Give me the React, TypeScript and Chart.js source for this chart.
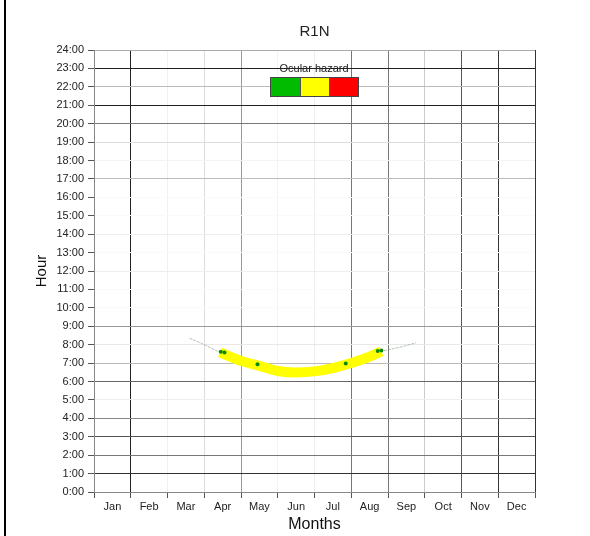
import React, { useEffect, useRef } from 'react';
import { Chart, registerables } from 'chart.js';

Chart.register(...registerables);

const monthLabels = ['Jan', 'Feb', 'Mar', 'Apr', 'May', 'Jun', 'Jul', 'Aug', 'Sep', 'Oct', 'Nov', 'Dec'];
const hourLabels = ['0:00', '1:00', '2:00', '3:00', '4:00', '5:00', '6:00', '7:00', '8:00', '9:00', '10:00', '11:00', '12:00', '13:00', '14:00', '15:00', '16:00', '17:00', '18:00', '19:00', '20:00', '21:00', '22:00', '23:00', '24:00'];

// thin sun-path trace (months from Jan 1, hours)
const traceMonths = [2.6, 3.0, 3.43, 4.0, 4.5, 5.0, 5.5, 6.0, 6.5, 7.0, 7.5, 7.78, 8.0, 8.4, 8.76];
const traceHours = [8.35, 8.0, 7.58, 7.12, 6.85, 6.57, 6.49, 6.55, 6.73, 7.0, 7.35, 7.62, 7.72, 7.9, 8.1];

// yellow glare band
const bandMonths = [3.43, 4.0, 4.5, 5.0, 5.5, 6.0, 6.5, 7.0, 7.5, 7.82];
const bandHours = [7.58, 7.12, 6.85, 6.57, 6.49, 6.55, 6.73, 7.0, 7.35, 7.64];

// green glare spots
const greenMonths = [3.45, 3.55, 4.45, 6.85, 7.72, 7.82];
const greenHours = [7.62, 7.57, 6.93, 6.98, 7.65, 7.68];

const hourGridColors = ['#888', '#333', '#777', '#555', '#888', '#eee', '#666', '#bbb', '#e8e8e8', '#999', '#fafafa', '#fafafa', '#eee', '#fafafa', '#eee', '#fafafa', '#fafafa', '#bbb', '#f3f3f3', '#ddd', '#777', '#222', '#bbb', '#222', '#aaa'];
const monthGridColors = ['#888', '#222', '#f0f0f0', '#ddd', '#999', '#f3f3f3', '#eee', '#777', '#777', '#ccc', '#555', '#333', '#333'];

const FONT = '"Liberation Sans", Arial, sans-serif';

export default function App() {
  const ref = useRef<HTMLCanvasElement | null>(null);

  useEffect(() => {
    if (!ref.current) return;
    Chart.defaults.font.family = FONT;
    const chart = new Chart(ref.current, {
      type: 'line',
      data: {
        datasets: [
          {
            label: 'trace',
            data: traceMonths.map((m, i) => ({ x: m, y: traceHours[i] })),
            borderColor: 'rgba(100,140,100,0.5)',
            borderWidth: 1,
            borderDash: [3, 1],
            pointRadius: 0,
            cubicInterpolationMode: 'monotone',
            order: 3,
          },
          {
            label: 'yellow',
            data: bandMonths.map((m, i) => ({ x: m, y: bandHours[i] })),
            borderColor: '#ffff00',
            borderWidth: 10,
            pointRadius: 0,
            cubicInterpolationMode: 'monotone',
            order: 2,
          },
          {
            label: 'green',
            data: greenMonths.map((m, i) => ({ x: m, y: greenHours[i] })),
            showLine: false,
            pointRadius: 2,
            pointBackgroundColor: '#0a8a0a',
            pointBorderWidth: 0,
            order: 1,
          },
        ],
      },
      options: {
        animation: false,
        responsive: false,
        devicePixelRatio: 1,
        layout: { padding: { left: 0, right: 55, top: 0, bottom: 0 } },
        plugins: {
          legend: { display: false },
          tooltip: { enabled: false },
          title: {
            display: true,
            text: 'R1N',
            fullSize: false,
            color: '#222',
            font: { size: 15, weight: 'normal', family: FONT },
            padding: { top: 23, bottom: 9 },
          },
        },
        scales: {
          x: {
            type: 'linear',
            min: 0,
            max: 12,
            afterFit: (s: any) => { s.height = 44; },
            ticks: {
              stepSize: 0.5,
              autoSkip: false,
              maxRotation: 0,
              minRotation: 0,
              padding: 2,
              color: '#222',
              font: { size: 11, family: FONT },
              callback: (v: any) => (Math.abs((v % 1) - 0.5) < 1e-6 ? monthLabels[Math.floor(v)] : ''),
            },
            grid: {
              tickLength: 6,
              color: (ctx: any) => {
                const v = ctx.tick ? ctx.tick.value : 0;
                return Number.isInteger(v) ? monthGridColors[v] : 'rgba(0,0,0,0)';
              },
              tickColor: (ctx: any) => {
                const v = ctx.tick ? ctx.tick.value : 0;
                return Number.isInteger(v) ? '#555' : 'rgba(0,0,0,0)';
              },
            },
            border: { color: '#888', width: 1 },
            title: {
              display: true,
              text: 'Months',
              color: '#111',
              font: { size: 16, family: FONT },
              padding: { top: 0, bottom: 2 },
            },
          },
          y: {
            type: 'linear',
            min: 0,
            max: 24,
            afterFit: (s: any) => { s.width = 94; },
            ticks: {
              stepSize: 1,
              autoSkip: false,
              padding: 4,
              color: '#222',
              font: { size: 11, family: FONT },
              callback: (v: any) => hourLabels[v],
            },
            grid: {
              tickLength: 6,
              color: (ctx: any) => hourGridColors[ctx.tick ? ctx.tick.value : 0],
              tickColor: '#555',
            },
            border: { color: '#888', width: 1 },
            title: {
              display: true,
              text: 'Hour',
              color: '#111',
              font: { size: 15, family: FONT },
              padding: { top: 33, bottom: 0 },
            },
          },
        },
      },
    });
    return () => chart.destroy();
  }, []);

  return (
    <div style={{ position: 'absolute', left: 0, top: 0, width: 590, height: 536, background: '#fff' }}>
      <canvas ref={ref} width={590} height={536} style={{ position: 'absolute', left: 0, top: 0, width: 590, height: 536 }} />
      <div style={{ position: 'absolute', left: 4, top: 0, width: 2, height: 536, background: '#000' }} />
      <div style={{ position: 'absolute', left: 244, top: 61, width: 140, textAlign: 'center', font: `11px ${FONT}`, color: '#222', lineHeight: '14px' }}>Ocular hazard</div>
      <div style={{ position: 'absolute', left: 270, top: 77, width: 89, height: 20, display: 'flex', border: '1px solid #444', boxSizing: 'border-box' }}>
        <div style={{ flex: 1, background: '#00bb00', borderRight: '1px solid #555' }} />
        <div style={{ flex: 1, background: '#ffff00' }} />
        <div style={{ flex: 1, background: '#ff0000' }} />
      </div>
    </div>
  );
}
